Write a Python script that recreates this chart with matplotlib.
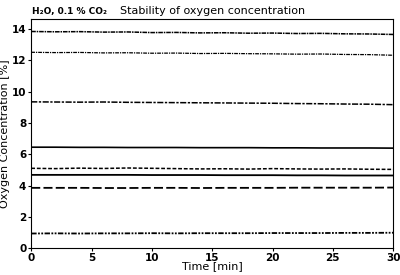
import numpy as np
import matplotlib.pyplot as plt

time = [0, 2, 4, 6, 8, 10, 12, 14, 16, 18, 20, 22, 24, 26, 28, 30]

o2_14 = [13.85, 13.83, 13.84, 13.81, 13.82, 13.78, 13.79, 13.76, 13.77, 13.74, 13.75, 13.72, 13.73, 13.70, 13.69, 13.66]
o2_12 = [12.52, 12.50, 12.51, 12.48, 12.49, 12.46, 12.47, 12.44, 12.45, 12.43, 12.42, 12.40, 12.41, 12.38, 12.37, 12.33]
o2_9 = [9.35, 9.34, 9.33, 9.34, 9.32, 9.31, 9.30, 9.29, 9.28, 9.27, 9.26, 9.24, 9.23, 9.21, 9.20, 9.17]
o2_6 = [6.45, 6.45, 6.44, 6.44, 6.43, 6.43, 6.43, 6.42, 6.42, 6.42, 6.41, 6.41, 6.40, 6.40, 6.40, 6.39]
o2_5 = [5.10, 5.08, 5.11, 5.09, 5.12, 5.10, 5.08, 5.06, 5.07, 5.05, 5.08, 5.06, 5.05, 5.06, 5.04, 5.03]
o2_4a = [4.68, 4.68, 4.68, 4.68, 4.68, 4.67, 4.67, 4.67, 4.66, 4.66, 4.66, 4.65, 4.65, 4.64, 4.64, 4.64]
o2_4b = [3.85, 3.85, 3.85, 3.84, 3.84, 3.85, 3.85, 3.84, 3.85, 3.85, 3.85, 3.86, 3.86, 3.86, 3.86, 3.87]
o2_1 = [0.93, 0.94, 0.93, 0.94, 0.94, 0.95, 0.94, 0.95, 0.95, 0.95, 0.96, 0.96, 0.96, 0.97, 0.97, 0.98]

series = [
    (o2_14, (0, (3, 0.6, 1, 0.6)), 1.1),
    (o2_12, (0, (3, 0.8, 1, 0.8)), 0.9),
    (o2_9, (0, (4, 1, 1.5, 1)), 1.1),
    (o2_6, "solid", 1.2),
    (o2_5, (0, (2.5, 1.2)), 1.1),
    (o2_4a, "solid", 1.3),
    (o2_4b, (0, (5, 1.8)), 1.3),
    (o2_1, (0, (3, 0.8, 1, 0.8, 1, 0.8)), 1.3),
]

plt.rcParams["font.family"] = "DejaVu Sans"
fig, ax = plt.subplots(figsize=(4, 2.75), dpi=100)
fig.subplots_adjust(left=0.078, right=0.983, top=0.931, bottom=0.098)

for y, ls, lw in series:
    ax.plot(time, y, color="black", linestyle=ls, linewidth=lw)

ax.set_xlim(0, 30)
ax.set_ylim(0, 14.65)
ax.set_xticks([0, 5, 10, 15, 20, 25, 30])
ax.set_yticks([0, 2, 4, 6, 8, 10, 12, 14])
ax.tick_params(labelsize=7.5, length=2.5, pad=1)
for lbl in ax.get_xticklabels() + ax.get_yticklabels():
    lbl.set_fontweight("bold")
ax.set_xlabel("Time [min]", fontsize=8, labelpad=-1)
ax.set_ylabel("Oxygen Concentration [%]", fontsize=8, labelpad=1)

fig.text(0.08, 0.943, "H\u2082O, 0.1 % CO\u2082", fontsize=6.5, fontweight="bold", va="bottom")
fig.text(0.30, 0.943, "Stability of oxygen concentration", fontsize=8, va="bottom")

fig.savefig("out.png", dpi=100)
